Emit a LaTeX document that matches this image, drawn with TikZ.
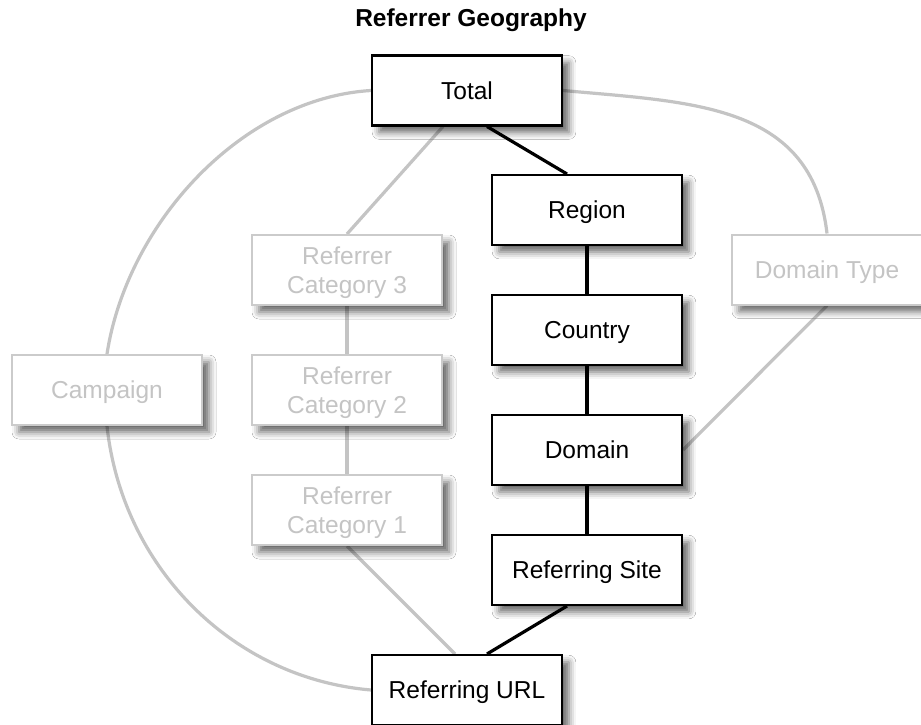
\documentclass[tikz,border=0pt]{standalone}
\usepackage{fontspec}
\setmainfont{Liberation Sans}
\usetikzlibrary{shadows.blur,backgrounds}
\definecolor{faint}{HTML}{C4C4C4}
\definecolor{faintedge}{HTML}{CBCBCB}
\begin{document}
\begin{tikzpicture}[x=1pt,y=-1pt,
  box/.style={draw=black, line width=2.4pt, fill=white,
    minimum width=189.6pt, minimum height=69.6pt, inner sep=0pt,
    align=center, text depth=0pt,
    font=\fontsize{24.5}{29}\selectfont,
    blur shadow={shadow xshift=7pt, shadow yshift=-7pt,
      shadow blur radius=7pt, shadow opacity=60}},
  ghost/.style={box, draw=faintedge, line width=2pt, text=faint,
    minimum width=190pt, minimum height=70pt},
  link/.style={line width=3.2pt, line cap=butt},
  faintlink/.style={line width=3.2pt, draw=faint}]

\useasboundingbox (0,0) rectangle (921,725);

% title
\node[anchor=base, font=\bfseries\fontsize{24.5}{29}\selectfont] (title) at (471,27) {Referrer Geography};

% main chain
\node[box] (total)   at (467,90.5) {Total};
\node[box] (region)  at (587,210)  {Region};
\node[box] (country) at (587,330)  {Country};
\node[box] (domain)  at (587,450)  {Domain};
\node[box] (site)    at (587,570)  {Referring Site};
\node[box] (url)     at (467,690)  {Referring URL};

% alternative paths
\node[ghost] (cat3)     at (347,270) {Referrer\\Category 3};
\node[ghost] (cat2)     at (347,390) {Referrer\\Category 2};
\node[ghost] (cat1)     at (347,510) {Referrer\\Category 1};
\node[ghost] (campaign) at (107,390) {Campaign};
\node[ghost] (dtype)    at (827,269.5) {Domain Type};

\begin{scope}[on background layer]
  \fill[white] (0,0) rectangle (921,725);

  % faint connectors
  \draw[faintlink] ([xshift=-24pt]total.south) -- (cat3.north);
  \draw[faintlink] (cat3.south) -- (cat2.north);
  \draw[faintlink] (cat2.south) -- (cat1.north);
  \draw[faintlink] (cat1.south) -- ([xshift=-12pt]url.north);
  \draw[faintlink] (total.west) .. controls +(-130,8) and +(20,-130) .. (campaign.north);
  \draw[faintlink] (campaign.south) .. controls +(15,140) and +(-140,-12) .. (url.west);
  \draw[faintlink] (total.east) .. controls +(130,12) and +(-15,-130) .. (dtype.north);
  \draw[faintlink] (dtype.south) -- (domain.east);

  % main connectors
  \draw[link] ([xshift=20pt]total.south) -- ([xshift=-20pt]region.north);
  \draw[link] (region.south) -- (country.north);
  \draw[link] (country.south) -- (domain.north);
  \draw[link] (domain.south) -- (site.north);
  \draw[link] ([xshift=-20pt]site.south) -- ([xshift=20pt]url.north);
\end{scope}
\end{tikzpicture}
\end{document}
